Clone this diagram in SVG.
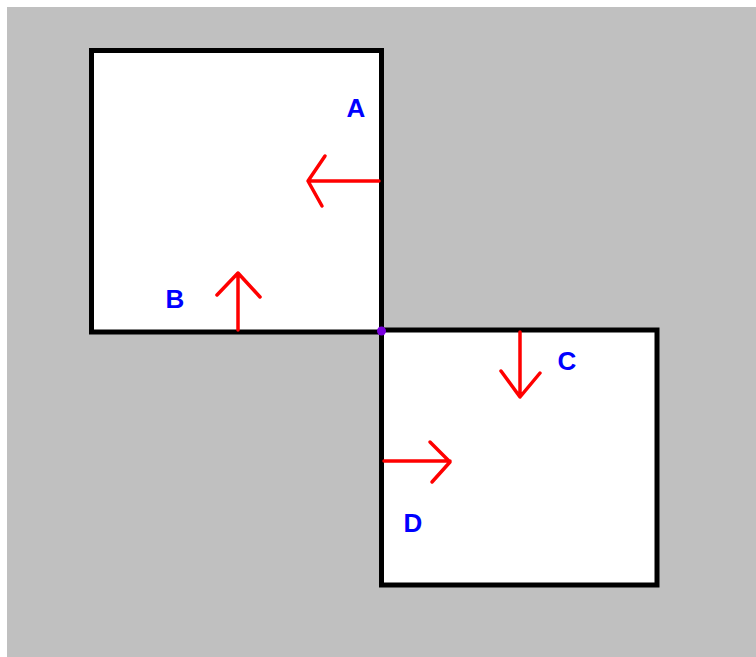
<svg xmlns="http://www.w3.org/2000/svg" width="756" height="657" viewBox="0 0 756 657">
  <style>
    .sq { fill: #ffffff; stroke: #000000; stroke-width: 5; }
    .arrow { fill: none; stroke: #ff0000; stroke-width: 3.5; stroke-linecap: round; stroke-linejoin: round; }
    .lbl { font-family: "Liberation Sans", Arial, sans-serif; font-weight: bold; font-size: 26px; fill: #0000ff; text-anchor: middle; }
  </style>
  <rect x="0" y="0" width="756" height="657" fill="#ffffff"/>
  <rect x="7" y="7" width="749" height="650" fill="#c0c0c0"/>

  <g id="square-upper">
    <rect class="sq" x="91.5" y="50.5" width="290" height="281.5"/>
  </g>
  <g id="square-lower">
    <rect class="sq" x="381.5" y="330" width="275.5" height="255"/>
  </g>

  <g id="connectors">
    <!-- A: leftward from the right edge of the upper square -->
    <path class="arrow" d="M379 181 H308 M325 156 L308 181 L322 206"/>
    <!-- B: upward from the bottom edge of the upper square -->
    <path class="arrow" d="M238 330 V273 M217 295 L238 273 L260 297"/>
    <!-- C: downward from the top edge of the lower square -->
    <path class="arrow" d="M520 332 V397 M501 371 L520 397 L540 373"/>
    <!-- D: rightward from the left edge of the lower square -->
    <path class="arrow" d="M384 461 H450 M430 442 L450 462 L432 482"/>
  </g>

  <g id="corner-point">
    <circle cx="381.5" cy="331" r="4.5" fill="#7a00e0"/>
  </g>

  <g id="labels">
    <text class="lbl" x="356" y="117">A</text>
    <text class="lbl" x="175" y="308">B</text>
    <text class="lbl" x="567" y="370">C</text>
    <text class="lbl" x="413" y="532">D</text>
  </g>
</svg>
